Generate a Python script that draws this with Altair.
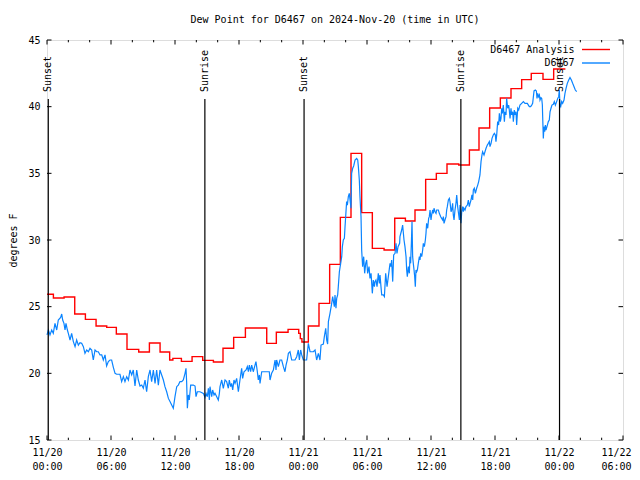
import altair as alt
import pandas as pd

title_text = "Dew Point for D6467 on 2024-Nov-20 (time in UTC)"
y_title = "degrees F"
series_names = ["D6467 Analysis", "D6467"]
series_colors = ["#ff0000", "#0a84ff"]

# Hourly analysis (step-after): (hours since 11/20 00:00 UTC, deg F)
analysis_steps = [
    (0.0, 25.93), (0.6, 25.65), (1.6, 25.73), (2.6, 24.45), (3.6, 24.05), (4.6, 23.55),
    (5.6, 23.45), (6.5, 22.95), (7.5, 21.8), (8.6, 21.6), (9.6, 22.27), (10.6, 21.6),
    (11.5, 21.0), (11.8, 21.12), (12.6, 20.9), (13.6, 21.25), (14.6, 20.97), (15.6, 20.85),
    (16.5, 21.88), (17.5, 22.7), (18.6, 23.4), (20.6, 22.25), (21.5, 23.08), (22.6, 23.3),
    (23.6, 23.0), (23.75, 22.6), (23.9, 22.35), (24.5, 23.55), (25.5, 25.25), (26.5, 28.17),
    (27.5, 31.7), (28.5, 36.5), (29.5, 32.05), (30.5, 29.37), (31.6, 29.25), (32.6, 31.63),
    (33.6, 31.43), (34.5, 32.25), (35.5, 34.55), (36.5, 35.0), (37.5, 35.7), (38.6, 35.62),
    (39.6, 36.75), (40.5, 38.4), (41.5, 39.9), (42.5, 40.65), (43.5, 41.35), (44.5, 42.03),
    (45.4, 42.5), (46.5, 42.05), (47.5, 42.83), (48.6, 42.83),
]

# Station observations: (hours since 11/20 00:00 UTC, deg F)
obs_points = [
    (0.0, 22.88), (0.13, 23.25), (0.28, 22.88), (0.44, 23.25), (0.59, 23.0), (0.75, 23.75),
    (0.91, 23.25), (1.06, 24.0), (1.28, 24.2), (1.38, 24.45), (1.47, 24.0), (1.59, 23.75),
    (1.69, 23.25), (1.78, 23.75), (1.91, 23.25), (2.0, 23.0), (2.16, 22.5), (2.31, 23.0),
    (2.47, 22.38), (2.63, 22.0), (2.78, 22.5), (2.94, 22.12), (3.09, 22.3), (3.25, 22.25),
    (3.41, 22.0), (3.56, 21.5), (3.72, 21.75), (3.88, 21.62), (4.03, 21.88), (4.19, 21.75),
    (4.34, 21.0), (4.5, 21.75), (4.66, 21.62), (4.81, 21.62), (4.97, 21.38), (5.13, 21.38),
    (5.28, 21.0), (5.44, 21.38), (5.59, 20.55), (5.75, 20.88), (5.91, 21.0), (6.06, 21.0),
    (6.22, 20.45), (6.38, 20.0), (6.53, 19.93), (6.84, 19.93), (7.0, 19.38), (7.16, 19.75),
    (7.31, 19.38), (7.47, 19.75), (7.63, 19.5), (7.78, 20.25), (7.94, 19.88), (8.09, 20.25),
    (8.25, 19.05), (8.41, 20.25), (8.56, 19.5), (8.72, 19.05), (8.88, 19.12), (9.03, 18.88),
    (9.19, 19.5), (9.34, 18.62), (9.5, 19.75), (9.66, 20.25), (9.81, 19.38), (9.97, 20.25),
    (10.13, 19.25), (10.28, 20.25), (10.44, 19.12), (10.59, 20.25), (10.75, 19.88), (10.91, 19.5),
    (11.06, 19.0), (11.22, 18.62), (11.38, 18.12), (11.53, 17.88), (11.69, 17.62), (11.84, 17.38),
    (12.0, 18.25), (12.16, 19.0), (12.31, 19.12), (12.47, 19.38), (12.63, 19.38), (12.78, 19.5),
    (12.94, 20.0), (13.03, 20.38), (13.09, 19.38), (13.16, 17.38), (13.25, 18.38), (13.34, 18.0),
    (13.47, 19.12), (13.72, 19.12), (13.88, 19.05), (13.97, 18.25), (14.09, 18.62), (14.34, 18.62),
    (14.66, 18.5), (14.81, 18.2), (14.91, 18.5), (15.03, 18.25), (15.13, 18.88), (15.22, 18.0),
    (15.28, 19.0), (15.44, 18.25), (15.53, 18.75), (15.66, 18.38), (15.75, 18.5), (15.91, 18.25),
    (16.06, 18.0), (16.16, 18.5), (16.22, 19.0), (16.38, 19.5), (16.53, 18.88), (16.69, 19.5),
    (16.84, 19.38), (17.0, 18.88), (17.09, 19.5), (17.22, 19.0), (17.31, 19.25), (17.41, 18.75),
    (17.53, 19.5), (17.63, 19.25), (17.78, 19.62), (17.94, 18.62), (18.09, 19.5), (18.16, 19.88),
    (18.25, 20.38), (18.34, 19.62), (18.47, 20.12), (18.66, 20.25), (18.78, 20.5), (18.88, 20.12),
    (18.97, 20.62), (19.09, 20.12), (19.19, 20.62), (19.34, 20.12), (19.5, 20.62), (19.59, 20.88),
    (19.72, 20.12), (19.81, 19.5), (19.91, 19.88), (19.97, 19.25), (20.13, 20.12), (20.59, 20.12),
    (20.84, 20.12), (20.91, 19.5), (21.06, 20.0), (21.22, 20.25), (21.38, 21.0), (21.47, 20.25),
    (21.53, 21.0), (21.69, 20.5), (21.84, 21.0), (22.0, 21.0), (22.16, 20.5), (22.31, 20.12),
    (22.41, 20.62), (22.53, 21.0), (22.63, 21.5), (22.78, 21.62), (22.94, 21.0), (23.25, 21.0),
    (23.41, 21.25), (23.56, 21.75), (23.66, 21.0), (23.78, 21.75), (23.88, 21.38), (24.03, 21.0),
    (24.34, 21.0), (24.5, 22.25), (24.66, 21.62), (24.97, 21.62), (25.13, 21.75), (25.28, 21.0),
    (25.44, 21.5), (25.59, 21.0), (25.69, 22.12), (25.91, 22.2), (26.0, 22.75), (26.13, 23.38),
    (26.22, 22.5), (26.31, 22.2), (26.38, 23.88), (26.53, 24.5), (26.69, 25.25), (26.78, 25.75),
    (26.94, 25.0), (27.0, 25.88), (27.09, 24.88), (27.16, 25.62), (27.25, 25.88), (27.31, 26.5),
    (27.41, 27.62), (27.53, 28.25), (27.63, 28.75), (27.69, 29.5), (27.78, 30.0), (27.88, 30.12),
    (27.94, 31.0), (28.0, 31.75), (28.09, 32.88), (28.16, 32.62), (28.25, 33.25), (28.34, 33.5),
    (28.5, 32.38), (28.56, 35.0), (28.66, 35.38), (28.75, 35.55), (28.88, 36.0), (29.03, 36.12),
    (29.13, 36.0), (29.19, 35.5), (29.28, 34.5), (29.34, 33.25), (29.44, 31.75), (29.5, 29.25),
    (29.59, 28.0), (29.69, 28.75), (29.78, 27.5), (29.88, 28.25), (29.97, 28.5), (30.06, 27.5),
    (30.19, 28.0), (30.28, 27.12), (30.38, 27.5), (30.5, 26.0), (30.59, 27.0), (30.69, 26.5),
    (30.75, 26.88), (30.84, 27.0), (30.94, 26.5), (31.06, 27.5), (31.16, 26.75), (31.22, 27.38),
    (31.31, 26.5), (31.38, 25.88), (31.53, 25.88), (31.63, 25.75), (31.75, 27.5), (31.88, 26.5),
    (32.0, 27.25), (32.16, 28.25), (32.25, 28.0), (32.31, 28.5), (32.41, 26.88), (32.5, 28.88),
    (32.63, 29.0), (32.72, 29.75), (32.81, 29.0), (32.91, 29.5), (33.06, 29.75), (33.09, 30.25),
    (33.25, 30.75), (33.34, 31.12), (33.47, 30.0), (33.56, 29.5), (33.66, 28.75), (33.72, 27.75),
    (33.78, 27.25), (33.88, 28.0), (33.97, 27.5), (34.03, 28.75), (34.09, 28.25), (34.16, 29.75),
    (34.22, 31.38), (34.28, 28.75), (34.34, 28.25), (34.41, 27.75), (34.47, 27.25), (34.53, 26.5),
    (34.59, 27.75), (34.66, 27.62), (34.72, 27.75), (34.81, 28.25), (34.91, 28.75), (34.97, 28.5),
    (35.03, 29.0), (35.13, 28.75), (35.22, 29.25), (35.28, 29.75), (35.38, 29.5), (35.47, 30.0),
    (35.53, 30.5), (35.59, 31.25), (35.69, 30.88), (35.78, 31.62), (35.84, 31.75), (35.91, 32.25),
    (36.0, 31.5), (36.06, 31.88), (36.16, 32.25), (36.22, 32.0), (36.28, 32.38), (36.38, 32.12),
    (36.47, 32.0), (36.53, 32.25), (36.69, 32.25), (36.78, 32.0), (36.91, 31.75), (37.0, 31.62),
    (37.09, 31.5), (37.16, 31.75), (37.22, 31.25), (37.31, 31.5), (37.41, 31.75), (37.47, 32.25),
    (37.53, 32.5), (37.63, 33.0), (37.72, 33.12), (37.78, 32.88), (37.88, 32.12), (37.94, 32.25),
    (38.03, 32.75), (38.09, 31.88), (38.16, 31.5), (38.25, 32.25), (38.34, 32.75), (38.41, 33.38),
    (38.5, 32.5), (38.56, 32.12), (38.66, 31.5), (38.72, 32.62), (38.81, 31.25), (38.88, 32.12),
    (38.97, 32.5), (39.03, 32.12), (39.09, 32.38), (39.19, 32.25), (39.28, 32.5), (39.41, 32.62),
    (39.5, 33.0), (39.59, 32.5), (39.66, 32.75), (39.75, 33.0), (39.84, 33.38), (39.91, 33.0),
    (39.97, 33.75), (40.06, 33.88), (40.16, 33.5), (40.28, 33.88), (40.38, 34.12), (40.47, 34.38),
    (40.59, 34.88), (40.69, 35.88), (40.78, 36.38), (40.84, 36.62), (40.97, 36.38), (41.06, 36.62),
    (41.16, 36.88), (41.28, 37.12), (41.38, 37.25), (41.47, 37.38), (41.53, 37.0), (41.63, 37.25),
    (41.72, 37.62), (41.84, 37.88), (41.94, 38.0), (42.03, 37.88), (42.09, 37.38), (42.16, 37.88),
    (42.25, 38.88), (42.34, 38.62), (42.41, 39.5), (42.5, 38.88), (42.56, 39.12), (42.63, 39.88),
    (42.69, 39.5), (42.78, 40.12), (42.88, 38.88), (42.94, 39.62), (43.03, 39.38), (43.09, 40.62),
    (43.19, 39.88), (43.28, 40.12), (43.34, 39.75), (43.41, 39.12), (43.5, 39.88), (43.56, 39.38),
    (43.66, 39.62), (43.72, 38.88), (43.81, 39.75), (43.88, 39.38), (43.97, 39.62), (44.03, 38.62),
    (44.13, 39.88), (44.22, 39.75), (44.34, 40.12), (44.5, 40.25), (44.66, 40.38), (44.81, 40.25),
    (45.03, 40.25), (45.13, 40.12), (45.22, 40.0), (45.34, 40.0), (45.44, 40.12), (45.53, 40.25),
    (45.66, 41.18), (45.78, 41.25), (45.88, 41.18), (45.94, 40.62), (46.0, 41.0), (46.09, 40.75),
    (46.16, 40.88), (46.22, 40.5), (46.31, 40.68), (46.38, 40.62), (46.44, 40.12), (46.47, 39.25),
    (46.53, 37.62), (46.59, 38.5), (46.66, 38.12), (46.72, 38.62), (46.78, 38.25), (46.91, 38.62),
    (47.0, 38.88), (47.09, 39.0), (47.16, 39.62), (47.25, 39.88), (47.34, 40.12), (47.47, 40.18),
    (47.56, 40.38), (47.66, 40.12), (47.78, 40.38), (47.88, 40.62), (47.97, 40.75), (48.03, 41.25),
    (48.09, 40.12), (48.16, 40.0), (48.25, 40.38), (48.34, 40.25), (48.47, 40.5), (48.56, 41.0),
    (48.66, 41.38), (48.78, 41.75), (48.91, 42.0), (49.03, 42.18), (49.16, 42.0), (49.28, 41.75),
    (49.41, 41.5), (49.53, 41.25), (49.66, 41.12),
]

event_hours = [0.12, 14.8, 24.1, 38.8, 48.05]
event_labels = ["Sunset", "Sunrise", "Sunset", "Sunrise", "Sunset"]

x_major = [0, 6, 12, 18, 24, 30, 36, 42, 48, 54]
x_minor = [2, 4, 8, 10, 14, 16, 20, 22, 26, 28, 32, 34, 38, 40, 44, 46, 50, 52]
y_major = [15, 20, 25, 30, 35, 40, 45]

W, H = 576, 400
FONT = "DejaVu Sans Mono"
FS = 10

red_df = pd.DataFrame(analysis_steps, columns=["hour", "value"])
blue_df = pd.DataFrame(obs_points, columns=["hour", "value"])
event_df = pd.DataFrame({"hour": event_hours, "label": event_labels})

xscale = alt.Scale(domain=[0, 54], nice=False, zero=False)
yscale = alt.Scale(domain=[15, 45], nice=False, zero=False)

x_axis = alt.Axis(
    values=x_major, title=None, domain=False, ticks=False, grid=False,
    labelExpr="['11/' + (20 + floor(datum.value / 24)), ((datum.value % 24) < 10 ? '0' : '') + (datum.value % 24) + ':00']",
    labelFont=FONT, labelFontSize=FS, labelColor="black", labelPadding=7,
    labelBaseline="top", labelLineHeight=14, labelFlush=False, labelOverlap=False, labelBound=False,
    labelOffset={"condition": {"test": "datum.value >= 54", "value": -7}, "value": 0},
)
y_axis = alt.Axis(
    values=y_major, title=y_title, domain=False, ticks=False, grid=False,
    labelFont=FONT, labelFontSize=FS, labelColor="black", labelPadding=7,
    labelFlush=False, labelOverlap=False,
    titleFont=FONT, titleFontSize=FS, titleFontWeight="normal", titleColor="black", titlePadding=9,
)


def X(field="hour"):
    return alt.X(f"{field}:Q", scale=xscale, axis=x_axis)


def Y(field="value"):
    return alt.Y(f"{field}:Q", scale=yscale, axis=y_axis)


red = alt.Chart(red_df).mark_line(interpolate="step-after", color=series_colors[0], strokeWidth=1.4).encode(
    x=X(), y=Y()
)
blue = alt.Chart(blue_df).mark_line(color=series_colors[1], strokeWidth=1.2).encode(x=X(), y=Y())

event_rules = alt.Chart(event_df).mark_rule(color="black", strokeWidth=1.2).encode(
    x=X(), y=alt.value(59), y2=alt.value(H)
)
event_text = alt.Chart(event_df).mark_text(
    angle=270, align="left", baseline="middle", font=FONT, fontSize=FS, color="black"
).encode(x=X(), y=alt.value(52), text="label:N")

xmaj_df = pd.DataFrame({"hour": x_major})
xmin_df = pd.DataFrame({"hour": x_minor})
ymaj_df = pd.DataFrame({"value": y_major})

tick_layers = []
for df, ln in [(xmaj_df, 4.5), (xmin_df, 2.3)]:
    tick_layers.append(alt.Chart(df).mark_rule(color="black", strokeWidth=1).encode(
        x=X(), y=alt.value(H), y2=alt.value(H - ln)))
    tick_layers.append(alt.Chart(df).mark_rule(color="black", strokeWidth=1).encode(
        x=X(), y=alt.value(0), y2=alt.value(ln)))
tick_layers.append(alt.Chart(ymaj_df).mark_rule(color="black", strokeWidth=1).encode(
    y=Y(), x=alt.value(0), x2=alt.value(4.5)))
tick_layers.append(alt.Chart(ymaj_df).mark_rule(color="black", strokeWidth=1).encode(
    y=Y(), x=alt.value(W), x2=alt.value(W - 4.5)))

legend_layers = []
for i, (name, col) in enumerate(zip(series_names, series_colors)):
    ldf = pd.DataFrame({"name": [name]})
    ypos = 9.5 + 13.5 * i
    legend_layers.append(alt.Chart(ldf).mark_text(
        align="right", baseline="middle", font=FONT, fontSize=FS, color="black"
    ).encode(text="name:N", x=alt.value(527.5), y=alt.value(ypos)))
    legend_layers.append(alt.Chart(ldf).mark_rule(color=col, strokeWidth=1.4).encode(
        x=alt.value(535), x2=alt.value(563), y=alt.value(ypos)))

chart = alt.layer(
    red, blue, event_rules, event_text, *tick_layers, *legend_layers
).properties(
    width=W, height=H,
    title=alt.TitleParams(title_text, font=FONT, fontSize=FS, fontWeight="normal", color="black",
                          anchor="middle", offset=10),
    autosize=alt.AutoSizeParams(type="none"),
    padding={"left": 39, "top": 32, "right": 9, "bottom": 32},
).configure_view(stroke="black", strokeWidth=1).configure(background="white")

chart.save("out.html", embed_options={"renderer": "svg", "actions": False})
